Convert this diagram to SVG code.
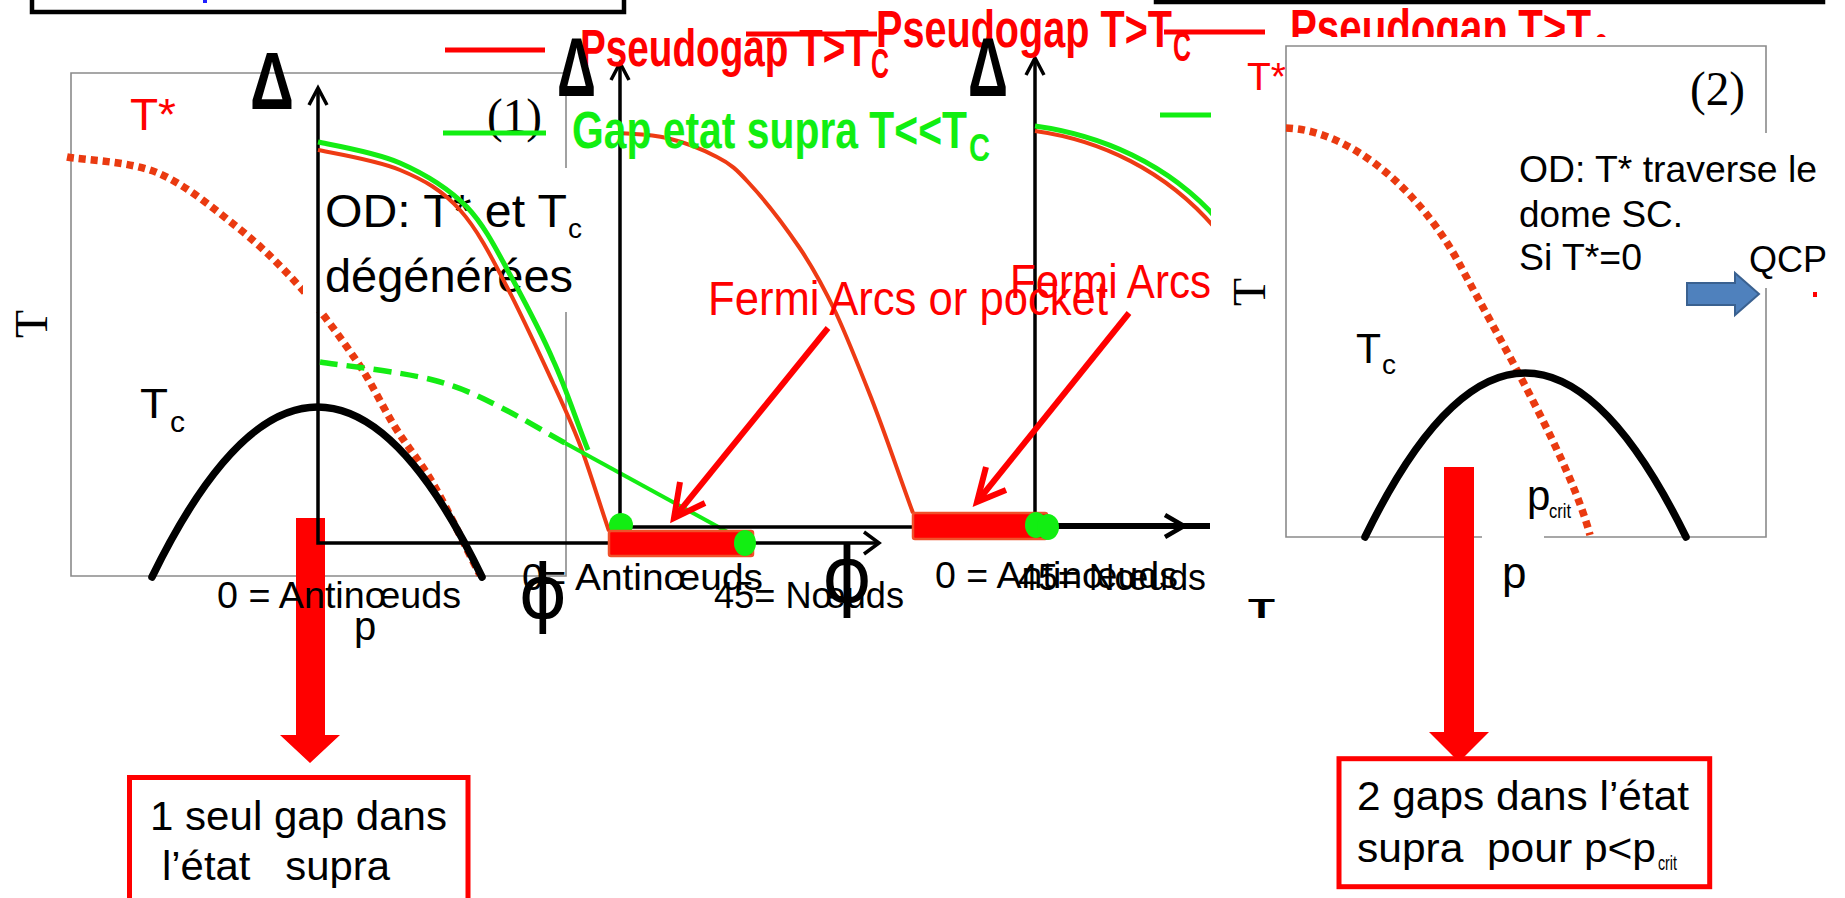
<svg xmlns="http://www.w3.org/2000/svg" width="1845" height="898" viewBox="0 0 1845 898">
<style>
.fr{fill:none;stroke:#8a8a8a;stroke-width:1.6}
.ax{fill:none;stroke:#000;stroke-width:3.5}
.ah{fill:none;stroke:#000;stroke-width:3.5;stroke-linejoin:miter}
.dome{fill:none;stroke:#000;stroke-width:7.5;stroke-linecap:round}
.tdot{fill:none;stroke:#ea3a10;stroke-width:7.5;stroke-dasharray:7 5}
.rc{fill:none;stroke:#ee3b14;stroke-width:4}
.gc{fill:none;stroke:#14ec14;stroke-width:5}
.gdash{fill:none;stroke:#14ec14;stroke-width:5.5;stroke-dasharray:18 9}
.gd{fill:#12ee12}
.bar{fill:#ff0000;stroke:#f0502a;stroke-width:2.5}
.s{font-family:"Liberation Sans",Arial,sans-serif;fill:#000}
.b{font-family:"Liberation Sans",Arial,sans-serif;font-weight:bold}
.sf{font-family:"Liberation Serif","Times New Roman",serif;fill:#000}
.phi{font-family:"DejaVu Sans",sans-serif;fill:#000}
.red{fill:#ff0000}
.grn{fill:#11ee11}
.rl{stroke:#ff0000;stroke-width:5}
.gl{stroke:#11ee11;stroke-width:5}
.ra{fill:none;stroke:#ff0000;stroke-width:6;stroke-linejoin:miter}
.box{fill:#fff;stroke:#ff0000;stroke-width:5}
.blk{fill:#ff0000}
</style>

<g id="top-boxes">
<rect x="32" y="-40" width="592" height="52" fill="none" stroke="#000" stroke-width="4.5"/>
<rect x="203" y="0" width="4" height="3" fill="#2020ff"/>
<rect x="1156" y="-40" width="667" height="42" fill="none" stroke="#000" stroke-width="4.5"/>
</g>

<g id="panel1">
<path class="fr" d="M566,168 V73 H71 V576 H566 V312"/>
<path class="blk" d="M296,518 H325 V735 H340 L310,763 L280,735 H296 Z"/>
<path class="tdot" d="M67,157 C82,160 130,161 158,173 C186,185 213,208 237,227 C261,246 280,265 300,287 C320,309 340,337 356,360 C372,383 382,406 395,427 C408,448 421,462 435,487 C449,512 465,546 480,575"/>
<path class="dome" d="M152,577 Q318,237 482,577"/>
<rect x="303" y="168" width="277" height="144" fill="#fff"/>
<text class="s" x="325" y="227" font-size="46" textLength="242" lengthAdjust="spacingAndGlyphs">OD: T* et T</text>
<text class="s" x="568" y="238" font-size="28">c</text>
<text class="s" x="325" y="292" font-size="46" textLength="248" lengthAdjust="spacingAndGlyphs">dégénérées</text>
<text class="s red" x="130" y="130" font-size="44" textLength="46" lengthAdjust="spacingAndGlyphs">T*</text>
<text class="s" x="140" y="418" font-size="42" textLength="28" lengthAdjust="spacingAndGlyphs">T</text>
<text class="s" x="170" y="432" font-size="30">c</text>
<text class="sf" font-size="46" text-anchor="middle" transform="translate(47,324) rotate(-90)">T</text>
<text class="sf" x="487" y="132" font-size="48" textLength="55" lengthAdjust="spacingAndGlyphs">(1)</text>
<path class="ax" d="M318,88 V543 H877"/>
<path class="ah" d="M309,105 L318,88 L327,105"/>
<path class="ah" d="M864,532 L879,543 L864,554"/>
<path class="rc" d="M318,150 C332,153 376,160 400,170 C424,180 442,190 460,210 C478,230 492,258 507,287 C522,316 540,355 553,383 C566,411 574,428 583,453 C592,478 600,505 609,531"/>
<path class="gc" d="M318,142 C332,145 375,152 400,163 C425,174 448,188 467,207 C486,227 499,255 513,280 C527,306 541,332 553,360 C566,388 576,420 588,450"/>
<path class="gdash" d="M320,362 C339,365 403,372 433,380 C463,388 478,396 500,407 C522,418 545,432 565,443"/>
<path fill="none" stroke="#14ec14" stroke-width="4" d="M565,443 L744,541"/>
<text class="s" x="217" y="608" font-size="37" textLength="244" lengthAdjust="spacingAndGlyphs">0 = Antinœuds</text>
<text class="s" x="354" y="640" font-size="40">p</text>
</g>

<g id="panel-mid">
<path class="ax" d="M620,63 V527 H913"/>
<path class="ah" d="M611,80 L620,63 L629,80"/>
<path class="rc" d="M620,133 C628,134 651,134 667,138 C683,142 704,150 717,157 C731,164 737,170 748,182 C762,197 784,225 799,247 C814,269 824,288 836,313 C848,339 859,367 872,400 C885,433 899,475 913,513"/>
<ellipse class="gd" cx="621" cy="525" rx="12" ry="12"/>
<rect class="bar" x="609" y="531" width="144" height="25" rx="2"/>
<ellipse class="gd" cx="745" cy="543" rx="11" ry="13"/>
<text class="s" x="522" y="590" font-size="37" textLength="241" lengthAdjust="spacingAndGlyphs">0= Antinœuds</text>
<text class="s" x="714" y="608" font-size="37" textLength="190" lengthAdjust="spacingAndGlyphs">45= Nœuds</text>
<text class="phi" x="543" y="618" font-size="74" text-anchor="middle">ϕ</text>
<text class="phi" x="847" y="602" font-size="76" text-anchor="middle">ϕ</text>
</g>

<g id="panel-right">
<path class="ax" d="M1035,58 V525"/>
<path class="ah" d="M1026,75 L1035,58 L1044,75"/>
<path fill="none" stroke="#000" stroke-width="6" d="M1047,526 H1210"/>
<path fill="none" stroke="#000" stroke-width="4.5" d="M1165,515 L1184,526 L1165,537"/>
<path class="rc" d="M1035,131 C1100,140 1165,170 1215,228"/>
<path class="gc" d="M1035,126 C1100,135 1168,163 1218,220"/>
<rect class="bar" x="913" y="513" width="134" height="26" rx="2"/>
<ellipse class="gd" cx="1036" cy="525" rx="11" ry="13"/>
<ellipse class="gd" cx="1048" cy="527" rx="11" ry="13"/>
<text class="s" x="935" y="588" font-size="37" textLength="243" lengthAdjust="spacingAndGlyphs">0 = Antinœuds</text>
<text class="s" x="1018" y="590" font-size="37" textLength="188" lengthAdjust="spacingAndGlyphs">45= Nœuds</text>
</g>

<g id="legend">
<line class="rl" x1="445" y1="50" x2="545" y2="50"/>
<line class="gl" x1="443" y1="133" x2="546" y2="133"/>
<line class="rl" x1="746" y1="34" x2="877" y2="34"/>
<line class="rl" x1="1164" y1="32" x2="1265" y2="32"/>
<line class="gl" x1="1160" y1="115" x2="1211" y2="115"/>
<text class="b red" x="580" y="66" font-size="51" textLength="289" lengthAdjust="spacingAndGlyphs">Pseudogap T&gt;T</text>
<text class="b red" x="871" y="78" font-size="42" textLength="18" lengthAdjust="spacingAndGlyphs">C</text>
<text class="b red" x="876" y="47" font-size="51" textLength="296" lengthAdjust="spacingAndGlyphs">Pseudogap T&gt;T</text>
<text class="b red" x="1173" y="61" font-size="42" textLength="18" lengthAdjust="spacingAndGlyphs">C</text>
<text class="b red" x="1290" y="46" font-size="51" textLength="301" lengthAdjust="spacingAndGlyphs">Pseudogap T&gt;T</text>
<text class="b red" x="1594" y="63" font-size="42" textLength="14" lengthAdjust="spacingAndGlyphs">C</text>
<text class="b grn" x="572" y="148" font-size="51" textLength="395" lengthAdjust="spacingAndGlyphs">Gap etat supra T&lt;&lt;T</text>
<text class="b grn" x="969" y="161" font-size="38" textLength="21" lengthAdjust="spacingAndGlyphs">C</text>
<text class="b" x="250" y="109" font-size="82" textLength="44" lengthAdjust="spacingAndGlyphs">Δ</text>
<text class="b" x="557" y="96" font-size="84" textLength="39" lengthAdjust="spacingAndGlyphs">Δ</text>
<text class="b" x="968" y="96" font-size="84" textLength="40" lengthAdjust="spacingAndGlyphs">Δ</text>
<text class="s red" x="708" y="315" font-size="48" textLength="400" lengthAdjust="spacingAndGlyphs">Fermi Arcs or pocket</text>
<text class="s red" x="1010" y="298" font-size="48" textLength="201" lengthAdjust="spacingAndGlyphs">Fermi Arcs</text>
</g>

<g id="panel2">
<rect x="1211" y="37" width="634" height="560" fill="#fff"/>
<path class="fr" d="M1766,133 V46 H1286 V537 H1482 M1544,537 H1766 V288"/>
<text class="sf" font-size="46" text-anchor="middle" transform="translate(1265,292) rotate(-90)">T</text>
<text class="s red" x="1247" y="90" font-size="38" textLength="39" lengthAdjust="spacingAndGlyphs">T*</text>
<text class="sf" x="1690" y="105" font-size="48" textLength="55" lengthAdjust="spacingAndGlyphs">(2)</text>
<path class="tdot" d="M1286,128 C1350,130 1420,190 1460,265 S1570,460 1590,535"/>
<path class="dome" d="M1365,537 Q1525,209 1686,537"/>
<text class="s" x="1356" y="363" font-size="42" textLength="25" lengthAdjust="spacingAndGlyphs">T</text>
<text class="s" x="1382" y="374" font-size="28">c</text>
<text class="s" x="1527" y="510" font-size="42">p</text>
<text class="s" x="1549" y="518" font-size="20" textLength="22" lengthAdjust="spacingAndGlyphs">crit</text>
<text class="s" x="1502" y="588" font-size="44">p</text>
<text class="s" x="1519" y="182" font-size="37" textLength="298" lengthAdjust="spacingAndGlyphs">OD: T* traverse le</text>
<text class="s" x="1519" y="227" font-size="37" textLength="164" lengthAdjust="spacingAndGlyphs">dome SC.</text>
<text class="s" x="1519" y="270" font-size="37" textLength="123" lengthAdjust="spacingAndGlyphs">Si T*=0</text>
<text class="s" x="1749" y="272" font-size="36" textLength="78" lengthAdjust="spacingAndGlyphs">QCP</text>
<rect x="1813" y="292" width="4" height="5" fill="#ff0000"/>
<text class="b" x="1248" y="618" font-size="28" textLength="27" lengthAdjust="spacingAndGlyphs">T</text>
</g>

<g id="connectors">
<path class="ra" d="M828,328 L674,518"/>
<path class="ra" d="M680,482 L674,518 L705,503"/>
<path class="ra" d="M1129,313 L977,502"/>
<path class="ra" d="M986,467 L977,502 L1006,490"/>
<path fill="#4f81bd" stroke="#3a6190" stroke-width="2" d="M1687,283 H1735 V273 L1759,294 L1735,315 V305 H1687 Z"/>
<path class="blk" d="M1444,467 H1474 V732 H1489 L1459,762 L1429,732 H1444 Z"/>
</g>

<g id="box1">
<rect class="box" x="129.5" y="777.5" width="338.5" height="150"/>
<text class="s" x="150" y="830" font-size="41" textLength="297" lengthAdjust="spacingAndGlyphs">1 seul gap dans</text>
<text class="s" x="162" y="880" font-size="41" textLength="228" lengthAdjust="spacingAndGlyphs" xml:space="preserve">l’état   supra</text>
</g>

<g id="box2">
<rect class="box" x="1339" y="758.7" width="370.7" height="128"/>
<text class="s" x="1357" y="810" font-size="41" textLength="332" lengthAdjust="spacingAndGlyphs">2 gaps dans l’état</text>
<text class="s" x="1357" y="862" font-size="41" textLength="299" lengthAdjust="spacingAndGlyphs" xml:space="preserve">supra  pour p&lt;p</text>
<text class="s" x="1658" y="870" font-size="20" textLength="19" lengthAdjust="spacingAndGlyphs">crit</text>
</g>
</svg>
